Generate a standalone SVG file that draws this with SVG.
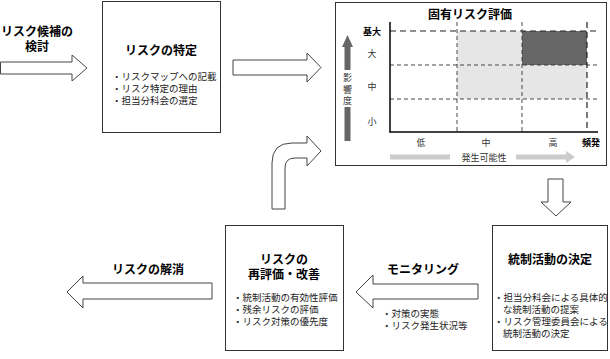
<svg xmlns="http://www.w3.org/2000/svg" width="610" height="359" viewBox="0 0 610 359">
<style>
.box{fill:#fff;stroke:#333;stroke-width:1}
.arr{fill:#fff;stroke:#444;stroke-width:1}
text{font-family:"Liberation Sans","Noto Sans CJK JP",sans-serif}
.ttl{font-weight:bold;font-size:12px;fill:#000;text-anchor:middle}
.bul{font-size:9.5px;fill:#222}
.lab{font-size:9px;fill:#333;text-anchor:middle}
.labb{font-size:9px;font-weight:bold;fill:#000;text-anchor:middle}
.dash1{stroke:#222;stroke-width:1.2;stroke-dasharray:6 4;fill:none}
.dash2{stroke:#333;stroke-width:0.9;stroke-dasharray:4 3;fill:none}
</style>
<rect width="610" height="359" fill="#fff"/>
<g id="connectors">
<path class="arr" d="M0.5,62 L72,62 L72,55 L87,68 L72,81 L72,74 L0.5,74 Z"/>
<path class="arr" d="M233,60 L307,60 L307,53 L321,67.5 L307,82 L307,75 L233,75 Z"/>
<path class="arr" d="M272,209 L272,163 Q272,143 292,143 L307,143 L307,136 L321,151 L307,166 L307,158 L295,158 Q285,158 285,168 L285,209 Z"/>
<path class="arr" d="M548,179 L563,179 L563,202 L571,202 L556,216 L541,202 L548,202 Z"/>
<path class="arr" d="M478,284 L373,284 L373,275 L356,292 L373,308 L373,299 L478,299 Z"/>
<path class="arr" d="M212,283 L83,283 L83,276 L67,292 L83,308 L83,299 L212,299 Z"/>
</g>
<g id="label-candidates">
<text class="ttl" x="37" y="36">リスク候補の<tspan x="37" dy="15">検討</tspan></text>
</g>
<g id="node-identify">
<rect class="box" x="102.5" y="1.5" width="118" height="131"/>
<text class="ttl" x="161" y="55">リスクの特定</text>
<text class="bul" x="112" y="80">・リスクマップへの記載<tspan x="112" dy="12">・リスク特定の理由</tspan><tspan x="112" dy="12">・担当分科会の選定</tspan></text>
</g>
<g id="node-matrix">
<rect class="box" x="335.5" y="2.5" width="271" height="163"/>
<text class="ttl" x="470" y="19">固有リスク評価</text>
<rect x="457" y="31" width="65" height="68" fill="#e6e6e6"/>
<rect x="522" y="65" width="65" height="34" fill="#e6e6e6"/>
<rect x="522" y="31" width="65" height="34" fill="#666"/>
<line class="dash1" x1="390" y1="31" x2="598" y2="31"/>
<line class="dash2" x1="390" y1="65" x2="598" y2="65"/>
<line class="dash2" x1="390" y1="99" x2="598" y2="99"/>
<line class="dash2" x1="457" y1="22" x2="457" y2="132"/>
<line class="dash2" x1="522" y1="22" x2="522" y2="132"/>
<line class="dash1" x1="587" y1="22" x2="587" y2="132"/>
<line x1="390" y1="22" x2="390" y2="132.5" stroke="#000" stroke-width="1.5"/>
<line x1="389.5" y1="132" x2="598" y2="132" stroke="#000" stroke-width="1.5"/>
<text class="labb" x="372" y="35">基大</text>
<text class="lab" x="372" y="57">大</text>
<text class="lab" x="372" y="90">中</text>
<text class="lab" x="372" y="125">小</text>
<text class="lab" x="421" y="146">低</text>
<text class="lab" x="486" y="146">中</text>
<text class="lab" x="553" y="146">高</text>
<text class="labb" x="591" y="146">頻発</text>
<path d="M347.5,35 L353,47 L350.5,47 L350.5,70 L344.5,70 L344.5,47 L342,47 Z" fill="#666"/>
<rect x="344.5" y="107" width="6" height="34" fill="#666"/>
<text class="lab" x="347.5" y="81" font-size="10">影</text>
<text class="lab" x="347.5" y="92.5" font-size="10">響</text>
<text class="lab" x="347.5" y="104" font-size="10">度</text>
<rect x="390" y="154.5" width="60" height="5" fill="#ccc"/>
<path d="M516,154.5 L566,154.5 L566,151 L575,157 L566,163 L566,159.5 L516,159.5 Z" fill="#ccc"/>
<text class="lab" x="484" y="161" font-size="11">発生可能性</text>
</g>
<g id="node-control">
<rect class="box" x="492.5" y="225.5" width="115" height="125"/>
<text class="ttl" x="550" y="264">統制活動の決定</text>
<text class="bul" x="494" y="301">・担当分科会による具体的<tspan x="503" dy="12">な統制活動の提案</tspan><tspan x="494" dy="12">・リスク管理委員会による</tspan><tspan x="503" dy="12">統制活動の決定</tspan></text>
</g>
<g id="label-monitoring">
<text class="ttl" x="423" y="274">モニタリング</text>
<text class="bul" x="382" y="317">・対策の実態<tspan x="382" dy="12">・リスク発生状況等</tspan></text>
</g>
<g id="node-reevaluate">
<rect class="box" x="225.5" y="225.5" width="118" height="125"/>
<text class="ttl" x="284" y="264">リスクの<tspan x="284" dy="15">再評価・改善</tspan></text>
<text class="bul" x="233" y="301">・統制活動の有効性評価<tspan x="233" dy="12">・残余リスクの評価</tspan><tspan x="233" dy="12">・リスク対策の優先度</tspan></text>
</g>
<g id="label-resolve">
<text class="ttl" x="148" y="274">リスクの解消</text>
</g>
</svg>
